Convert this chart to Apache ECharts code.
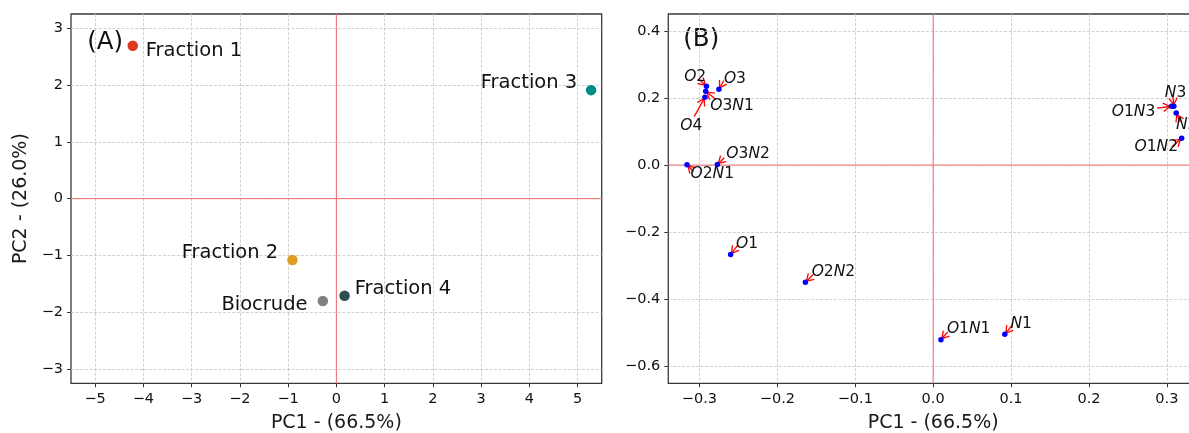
<!DOCTYPE html>
<html>
<head>
<meta charset="utf-8">
<script src="https://cdn.jsdelivr.net/npm/echarts@6/dist/echarts.min.js"></script>
<style>
  html, body { margin: 0; padding: 0; background: #ffffff; overflow: hidden; }
  #chart { width: 1189px; height: 433px; }
</style>
</head>
<body>
<div id="chart"></div>
<script>
// ---------- Data: panel (A) samples ----------
const sampleNames = ['Fraction 1', 'Fraction 2', 'Fraction 3', 'Fraction 4', 'Biocrude'];
const samplePC1 = [-4.22, -0.91, 5.28, 0.17, -0.28];
const samplePC2 = [2.69, -1.08, 1.91, -1.71, -1.80];

// ---------- Data: panel (B) compound classes ----------
const classNames = ['O1', 'O2', 'O3', 'O4', 'O2N1', 'O3N1', 'O3N2', 'O2N2', 'O1N1', 'N1', 'N3', 'O1N3', 'N2', 'O1N2'];
const classPC1 = [-0.260, -0.291, -0.275, -0.293, -0.316, -0.292, -0.277, -0.164, 0.010, 0.092, 0.309, 0.306, 0.312, 0.319];
const classPC2 = [-0.266, 0.235, 0.226, 0.202, 0.001, 0.220, 0.002, -0.349, -0.520, -0.504, 0.175, 0.175, 0.155, 0.080];

// ---------- Tick values ----------
const aXTicks = [-5, -4, -3, -2, -1, 0, 1, 2, 3, 4, 5];
const aYTicks = [-3, -2, -1, 0, 1, 2, 3];
const bXTicks = [-0.3, -0.2, -0.1, 0.0, 0.1, 0.2, 0.3];
const bYTicks = [-0.6, -0.4, -0.2, 0.0, 0.2, 0.4];

// reference (origin) lines
const originLine = [[0, 0]];

// ---------- Styling (not data) ----------
const sampleColors = ['#dc3a1d', '#e09c22', '#008b87', '#2f4f4f', '#808080'];
const sampleLabelPos = [
  { side: 'right', dx: 12.7, dy: 5 },
  { side: 'left', dx: -14, dy: -7 },
  { side: 'left', dx: -13.6, dy: -6.7 },
  { side: 'right', dx: 10, dy: -7 },
  { side: 'left', dx: -15, dy: 4 }
];
const classLabelPos = [
  { t: [16.4, -10.5], s: [7, -9] },      // O1
  { t: [-11.3, -9.7], s: [-7, -6.4] },   // O2
  { t: [16, -10.7], s: [5, -8.7] },      // O3
  { t: [-13.7, 28.8], s: [-10.7, 19.3] },// O4
  { t: [25.3, 9.7], s: [6.6, 6.7] },     // O2N1
  { t: [26.3, 14.3], s: [10, 8] },       // O3N1
  { t: [30.7, -10.5], s: [7, -6.7] },    // O3N2
  { t: [28, -10.5], s: [7.7, -7.7] },    // O2N2
  { t: [27.7, -10.3], s: [6.7, -7.6] },  // O1N1
  { t: [16.3, -10.5], s: [7.3, -9] },    // N1
  { t: [1.7, -13.5], s: [-1, -11] },     // N3
  { t: [-38, 6], s: [-14.3, 1.7] },      // O1N3
  { t: [10.5, 12.3], s: [4.3, 9] },      // N2
  { t: [-25.4, 8.3], s: [-10, 8.7] }     // O1N2
];

const FONT = 'DejaVu Sans';
const minus = v => String(v).replace('-', '\u2212');

const chart = echarts.init(document.getElementById('chart'), null, { renderer: 'canvas', width: 1189, height: 433 });

function axisCommon(ticks, fmt) {
  return {
    type: 'value',
    axisLine: { show: false, onZero: false },
    axisTick: { show: true, length: 4, customValues: ticks, lineStyle: { color: '#333', width: 1 } },
    axisLabel: {
      customValues: ticks, formatter: fmt, fontSize: 14.5, color: '#111',
      fontFamily: FONT, margin: 8
    },
    splitLine: { show: true, lineStyle: { color: '#cccccc', width: 0.9, type: [3, 1.6] } },
    nameTextStyle: { fontSize: 19, color: '#1a1a1a', fontFamily: FONT }
  };
}

const fmtInt = v => minus(Math.round(v));
const fmt1 = v => minus((Math.abs(v) < 1e-9 ? 0 : v).toFixed(1));

const sampleData = samplePC1.map((x, i) => ({
  value: [x, samplePC2[i]],
  name: sampleNames[i],
  itemStyle: { color: sampleColors[i], opacity: 1 },
  label: {
    show: true,
    position: sampleLabelPos[i].side,
    distance: 0,
    offset: [sampleLabelPos[i].side === 'right' ? sampleLabelPos[i].dx - 5 : sampleLabelPos[i].dx + 5, sampleLabelPos[i].dy]
  }
}));

const classData = classPC1.map((x, i) => [x, classPC2[i]]);
const richName = n => n.replace(/([A-Z])/g, '{i|$1}');

function originSeries(idx) {
  return {
    type: 'custom',
    xAxisIndex: idx, yAxisIndex: idx,
    data: originLine,
    z: 3,
    silent: true,
    renderItem: function (params, api) {
      const cs = params.coordSys;
      const o = api.coord([api.value(0), api.value(1)]);
      const st = { stroke: '#f46a6a', lineWidth: 1 };
      return {
        type: 'group',
        children: [
          { type: 'line', shape: { x1: o[0], y1: cs.y, x2: o[0], y2: cs.y + cs.height }, style: st },
          { type: 'line', shape: { x1: cs.x, y1: o[1], x2: cs.x + cs.width, y2: o[1] }, style: st }
        ]
      };
    }
  };
}

const gridBase = { top: 14, bottom: 49.7, show: true, borderColor: '#3a3a3a', borderWidth: 1.3, containLabel: false, outerBoundsMode: 'none' };

const option = {
  animation: false,
  backgroundColor: '#ffffff',
  grid: [
    Object.assign({ left: 71, width: 530.7 }, gridBase),
    Object.assign({ left: 668.3, width: 529.7 }, gridBase)
  ],
  xAxis: [
    Object.assign(axisCommon(aXTicks, fmtInt), {
      gridIndex: 0, min: -5.5, max: 5.5, splitNumber: 11,
      name: 'PC1 - (66.5%)', nameLocation: 'middle', nameGap: 30
    }),
    Object.assign(axisCommon(bXTicks, fmt1), {
      gridIndex: 1, min: -0.34, max: 0.34, splitNumber: 7,
      name: 'PC1 - (66.5%)', nameLocation: 'middle', nameGap: 30
    })
  ],
  yAxis: [
    Object.assign(axisCommon(aYTicks, fmtInt), {
      gridIndex: 0, min: -3.25, max: 3.25, splitNumber: 7,
      name: 'PC2 - (26.0%)', nameLocation: 'middle', nameGap: 40
    }),
    Object.assign(axisCommon(bYTicks, fmt1), {
      gridIndex: 1, min: -0.65, max: 0.45, splitNumber: 6
    })
  ],
  graphic: [
    { type: 'text', x: 87.3, y: 42.7, style: { text: '(A)', fontSize: 24.5, fontFamily: FONT, fill: '#111', verticalAlign: 'middle', textVerticalAlign: 'middle' } },
    { type: 'text', x: 683.3, y: 40, style: { text: '(B)', fontSize: 24.5, fontFamily: FONT, fill: '#111', verticalAlign: 'middle', textVerticalAlign: 'middle' } }
  ],
  series: [
    originSeries(0),
    originSeries(1),
    {
      type: 'scatter',
      xAxisIndex: 0, yAxisIndex: 0,
      symbolSize: 10.5,
      data: sampleData,
      itemStyle: { opacity: 1 },
      label: { formatter: '{b}', fontSize: 19.5, color: '#111', fontFamily: FONT, opacity: 1 },
      z: 5
    },
    {
      type: 'custom',
      xAxisIndex: 1, yAxisIndex: 1,
      data: classData,
      z: 4,
      clip: false,
      renderItem: function (params, api) {
        const i = params.dataIndex;
        const p = api.coord([api.value(0), api.value(1)]);
        const lay = classLabelPos[i];
        const sx = p[0] + lay.s[0], sy = p[1] + lay.s[1];
        const dx = p[0] - sx, dy = p[1] - sy;
        const len = Math.hypot(dx, dy) || 1;
        const ux = dx / len, uy = dy / len;
        const tx = p[0] - ux * 1.5, ty = p[1] - uy * 1.5;
        const hl = 8, a = 0.55;
        const bx = -ux, by = -uy;
        const h1 = [tx + hl * (bx * Math.cos(a) - by * Math.sin(a)), ty + hl * (bx * Math.sin(a) + by * Math.cos(a))];
        const h2 = [tx + hl * (bx * Math.cos(-a) - by * Math.sin(-a)), ty + hl * (bx * Math.sin(-a) + by * Math.cos(-a))];
        return {
          type: 'group',
          children: [
            { type: 'line', shape: { x1: sx, y1: sy, x2: tx, y2: ty }, style: { stroke: '#ff0000', lineWidth: 1.3 } },
            { type: 'polyline', shape: { points: [h1, [tx, ty], h2] }, style: { stroke: '#ff0000', lineWidth: 1.3, fill: null } },
            {
              type: 'text',
              style: {
                text: richName(classNames[i]),
                x: p[0] + lay.t[0], y: p[1] + lay.t[1],
                align: 'center', verticalAlign: 'middle',
                textAlign: 'center', textVerticalAlign: 'middle',
                fontSize: 15.5, fontFamily: FONT, fill: '#111',
                rich: { i: { fontStyle: 'italic', fontSize: 15.5, fontFamily: FONT, color: '#111' } }
              }
            }
          ]
        };
      }
    },
    {
      type: 'scatter',
      xAxisIndex: 1, yAxisIndex: 1,
      symbolSize: 5.5,
      itemStyle: { color: '#0000ff', opacity: 1 },
      data: classData,
      z: 6
    }
  ]
};

chart.setOption(option);
</script>
</body>
</html>
